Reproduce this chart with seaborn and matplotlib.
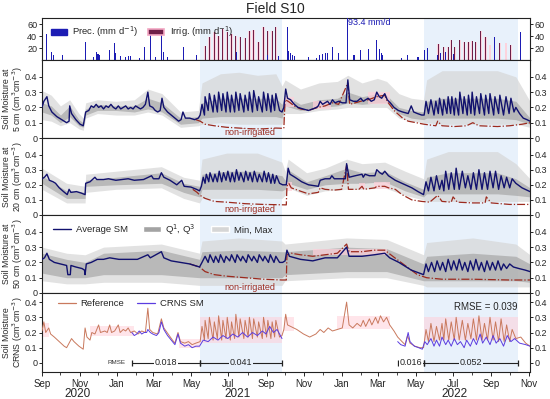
import numpy as np
import pandas as pd
import matplotlib
matplotlib.use("Agg")
import matplotlib.pyplot as plt
import matplotlib.dates as mdates
import matplotlib.transforms as mtrans
from matplotlib.patches import Patch
from matplotlib.lines import Line2D
import seaborn as sns

# days counted from 2020-09-01
START = pd.Timestamp("2020-09-01")
END_DAY = 793
irrigated_seasons = [(257, 390), (621, 774)]

prec_days = [8, 16, 18, 34, 71, 83, 89, 91, 94, 110, 118, 120, 127, 136, 140, 144, 159, 167, 176, 184,
             194, 197, 204, 230, 251, 316, 366, 384, 399, 401, 404, 407, 411, 433, 446, 451, 456, 460,
             464, 472, 482, 497, 507, 518, 530, 544, 549, 552, 554, 584, 594, 611, 621, 626, 643, 648,
             655, 668, 736, 777]
prec_vals = [44, 12.6, 8, 9, 30, 5, 14, 10, 8, 16, 28, 12, 7, 5, 6, 7, 3, 22, 42, 5,
             42, 14, 5, 22, 8, 13, 8, 6, 55, 15, 12, 8, 6, 5, 3, 8, 10, 12,
             12, 22, 12, 93.4, 8, 16, 18, 33, 18, 12, 8, 3, 8, 5, 16, 20, 8, 12,
             14, 10, 38, 47]
irr_days = [265, 272, 280, 287, 294, 301, 308, 315, 322, 330, 337, 344, 352, 360, 367, 374, 380,
            644, 653, 660, 665, 671, 679, 686, 693, 699, 705, 713, 721, 728, 744, 754, 762]
irr_vals = [24, 39, 47, 40, 52, 47, 43, 40, 39, 36, 48, 50, 30, 55, 48, 48, 55,
            27, 22, 22, 34, 22, 34, 30, 30, 32, 30, 49, 38, 25, 28, 28, 25]

avg5 = [(0, .20), (3, .24), (8, .27), (11, .21), (16, .17), (24, .14), (32, .12), (40, .10), (44, .11),
        (45, .21), (48, .16), (55, .12), (62, .09), (67, .08), (71, .17), (76, .18), (80, .21), (84, .20),
        (88, .22), (92, .20), (96, .21), (100, .19), (104, .21), (108, .20), (112, .22), (116, .20),
        (120, .19), (124, .21), (128, .19), (132, .20), (136, .21), (140, .19), (144, .20), (148, .19),
        (152, .21), (156, .20), (160, .19), (164, .20), (168, .22), (172, .30), (175, .21), (180, .20),
        (184, .18), (188, .17), (192, .18), (195, .26), (198, .20), (204, .17), (210, .15), (216, .13),
        (222, .11), (226, .12), (229, .17), (233, .13), (240, .13), (248, .12), (254, .13),
        (257, .15), (260, .22), (264, .15), (265, .27), (270, .18), (272, .29), (278, .17), (280, .28),
        (285, .17), (287, .30), (292, .18), (294, .29), (299, .17), (301, .30), (306, .17), (308, .28),
        (313, .17), (315, .30), (320, .18), (322, .29), (328, .17), (330, .28), (335, .18), (337, .30),
        (342, .17), (344, .31), (350, .18), (352, .27), (358, .17), (360, .30), (365, .18), (367, .29),
        (372, .17), (374, .28), (378, .18), (380, .29), (386, .18), (390, .17),
        (393, .20), (396, .32), (399, .26), (404, .25), (410, .22), (416, .20), (424, .19), (433, .18),
        (440, .19), (446, .20), (449, .21), (452, .24), (456, .22), (460, .23), (464, .24), (468, .22),
        (472, .25), (476, .23), (482, .24), (488, .23), (494, .23), (497, .38), (500, .25), (506, .24),
        (512, .24), (518, .26), (522, .24), (526, .25), (530, .26), (535, .24), (540, .25), (544, .30),
        (548, .27), (552, .26), (557, .29), (561, .25), (566, .23), (572, .20), (579, .18), (586, .17),
        (595, .16), (600, .21), (604, .17), (610, .16), (617, .15),
        (621, .15), (624, .24), (628, .16), (632, .25), (637, .15), (640, .24), (644, .16), (646, .26),
        (651, .15), (653, .25), (658, .16), (660, .27), (664, .16), (666, .27), (670, .15), (672, .26),
        (677, .15), (679, .30), (684, .16), (686, .27), (691, .15), (693, .28), (697, .16), (699, .30),
        (703, .15), (706, .27), (711, .16), (713, .29), (719, .15), (721, .28), (726, .16), (728, .29),
        (734, .15), (736, .27), (742, .16), (744, .28), (750, .15), (754, .27), (759, .16), (762, .26),
        (767, .17), (770, .20), (776, .16), (782, .13), (788, .12), (793, .11)]
nonirr5 = [(250, .12), (257, .11), (265, .09), (280, .08), (300, .07), (320, .065), (340, .06), (360, .06),
           (380, .065), (393, .063), (395, .25), (400, .24), (410, .21), (420, .19), (433, .18), (448, .20),
           (460, .21), (472, .23), (482, .22), (497, .36), (500, .22), (518, .24), (530, .25), (544, .27),
           (557, .28), (561, .24), (572, .18), (586, .13), (595, .11), (608, .10), (621, .09), (640, .08),
           (643, .11), (650, .08), (670, .075), (690, .08), (700, .10), (710, .08), (740, .075),
           (760, .08), (780, .09), (793, .10)]
# (day, min, q1, q3, max)
band5 = [(0, .12, .17, .23, .31), (15, .11, .15, .21, .28), (30, .08, .10, .15, .21), (45, .10, .14, .21, .25),
         (60, .06, .08, .12, .16), (67, .05, .07, .10, .13), (71, .13, .15, .19, .23), (90, .16, .18, .22, .25),
         (120, .15, .18, .21, .24), (150, .15, .17, .21, .25), (172, .17, .19, .26, .32), (195, .15, .17, .23, .29),
         (225, .07, .09, .13, .17), (254, .08, .10, .14, .18), (260, .09, .13, .23, .36), (290, .10, .14, .26, .42),
         (320, .09, .14, .26, .43), (350, .09, .14, .26, .41), (380, .09, .14, .26, .42), (390, .09, .13, .22, .34),
         (395, .16, .21, .28, .38), (420, .16, .18, .22, .32), (450, .18, .20, .25, .36), (480, .19, .21, .26, .37),
         (497, .20, .23, .30, .41), (520, .20, .22, .27, .36), (545, .20, .23, .29, .39), (560, .20, .23, .28, .37),
         (580, .13, .16, .20, .29), (600, .11, .13, .18, .26), (620, .10, .12, .17, .25), (625, .10, .13, .24, .38),
         (650, .09, .13, .26, .44), (680, .09, .13, .26, .44), (710, .09, .13, .26, .44), (740, .09, .13, .26, .44),
         (770, .09, .12, .24, .40), (793, .07, .09, .13, .24)]
pink5 = [(393, 410, .20, .27), (440, 470, .19, .24), (530, 565, .22, .30)]

avg20 = [(0, .24), (4, .25), (8, .27), (12, .23), (18, .22), (22, .21), (28, .18), (35, .155), (41, .135),
         (44, .17), (47, .15), (56, .155), (64, .145), (70, .135), (71, .21), (78, .22), (86, .25), (89, .235),
         (100, .235), (108, .24), (120, .23), (130, .235), (140, .24), (150, .23), (165, .235), (178, .26),
         (181, .24), (190, .24), (194, .28), (198, .25), (208, .23), (219, .20), (227, .23), (231, .19),
         (242, .185), (251, .17), (256, .16),
         (259, .19), (262, .25), (265, .21), (267, .27), (271, .22), (273, .28), (278, .22), (281, .27),
         (285, .22), (288, .29), (292, .22), (295, .28), (299, .23), (302, .29), (306, .22), (309, .28),
         (313, .22), (316, .30), (320, .23), (323, .28), (328, .22), (331, .29), (335, .23), (338, .28),
         (342, .22), (345, .29), (350, .22), (353, .27), (358, .22), (361, .29), (365, .22), (368, .28),
         (372, .21), (375, .27), (378, .21), (381, .26), (386, .21), (391, .20),
         (397, .20), (400, .31), (403, .27), (411, .25), (422, .22), (433, .20), (449, .19), (452, .23),
         (460, .24), (468, .24), (471, .26), (475, .24), (487, .24), (493, .24), (495, .34), (499, .25),
         (509, .26), (520, .27), (522, .25), (525, .27), (532, .26), (541, .26), (544, .30), (549, .28),
         (553, .27), (557, .29), (563, .26), (574, .23), (590, .20), (601, .18), (611, .155), (620, .135),
         (624, .22), (628, .16), (632, .25), (637, .16), (641, .26), (646, .17), (650, .23), (653, .16),
         (656, .29), (661, .17), (665, .28), (670, .17), (673, .31), (678, .17), (683, .29), (688, .18),
         (692, .26), (697, .17), (701, .28), (706, .17), (710, .30), (715, .17), (719, .28), (724, .17),
         (728, .29), (733, .18), (737, .29), (742, .17), (746, .26), (751, .18), (755, .25), (760, .18),
         (764, .24), (770, .21), (780, .18), (793, .155)]
nonirr20 = [(245, .17), (252, .15), (257, .13), (265, .11), (280, .09), (300, .085), (330, .075), (360, .07),
            (397, .067), (398, .19), (401, .21), (405, .18), (422, .155), (433, .14), (449, .15), (452, .18),
            (460, .17), (475, .165), (487, .17), (495, .33), (498, .17), (515, .17), (520, .19), (523, .17),
            (541, .18), (544, .19), (552, .19), (557, .19), (563, .18), (574, .17), (585, .135), (601, .10),
            (617, .09), (630, .085), (643, .13), (650, .09), (665, .085), (668, .12), (675, .085), (700, .08),
            (720, .08), (722, .12), (730, .08), (760, .07), (793, .07)]
band20 = [(0, .17, .21, .26, .31), (40, .08, .11, .16, .21), (70, .08, .11, .15, .19), (71, .15, .19, .23, .27),
          (120, .17, .20, .25, .29), (194, .18, .21, .28, .32), (230, .11, .15, .21, .25), (256, .08, .12, .19, .23),
          (260, .11, .17, .27, .37), (300, .11, .17, .29, .41), (350, .11, .17, .29, .41), (390, .11, .16, .26, .35),
          (395, .13, .17, .23, .29), (400, .18, .21, .30, .37), (430, .13, .17, .22, .28), (460, .16, .20, .26, .31),
          (495, .17, .21, .31, .37), (520, .17, .21, .28, .34), (557, .18, .22, .29, .35), (590, .13, .16, .22, .29),
          (620, .10, .12, .17, .24), (625, .09, .14, .25, .37), (660, .09, .14, .28, .42), (700, .09, .14, .28, .42),
          (740, .09, .14, .28, .42), (770, .09, .13, .24, .34), (793, .09, .12, .18, .24)]
pink20 = [(398, 406, .16, .22), (515, 525, .17, .21), (540, 565, .17, .22)]

avg50 = [(0, .22), (4, .23), (8, .26), (12, .22), (20, .20), (30, .19), (40, .18), (42, .12), (46, .12),
         (47, .18), (55, .17), (65, .16), (69, .15), (70, .12), (72, .19), (80, .20), (90, .22), (100, .22),
         (110, .23), (125, .22), (140, .22), (155, .22), (172, .25), (176, .23), (194, .27), (198, .23),
         (210, .21), (225, .20), (240, .19), (256, .17),
         (260, .20), (265, .24), (270, .20), (273, .25), (279, .20), (282, .24), (287, .20), (290, .25),
         (296, .20), (299, .24), (305, .21), (308, .25), (314, .20), (317, .25), (323, .21), (326, .24),
         (332, .20), (335, .25), (341, .21), (344, .24), (350, .20), (353, .25), (359, .21), (362, .24),
         (368, .20), (371, .25), (377, .20), (380, .24), (386, .20), (391, .20),
         (395, .21), (398, .28), (402, .24), (420, .22), (440, .21), (460, .23), (480, .23), (495, .30),
         (499, .24), (520, .24), (540, .25), (557, .26), (565, .23), (580, .20), (600, .15), (620, .12),
         (624, .19), (628, .14), (633, .20), (638, .14), (642, .21), (647, .15), (651, .20), (656, .14),
         (660, .22), (665, .15), (669, .21), (674, .15), (678, .22), (683, .15), (687, .20), (692, .14),
         (696, .21), (701, .15), (705, .22), (710, .15), (714, .20), (719, .14), (723, .21), (728, .15),
         (732, .20), (737, .15), (741, .21), (746, .15), (750, .19), (755, .16), (760, .19), (766, .17),
         (775, .16), (785, .15), (793, .14)]
nonirr50 = [(240, .19), (256, .17), (265, .14), (280, .12), (300, .11), (330, .10), (360, .09), (390, .085),
            (397, .085), (398, .25), (405, .26), (420, .25), (440, .24), (460, .25), (480, .26), (495, .32),
            (499, .27), (520, .27), (540, .28), (557, .28), (570, .24), (590, .18), (610, .12), (625, .10),
            (650, .09), (700, .09), (760, .085), (793, .085)]
band50 = [(0, .08, .13, .26, .30), (40, .06, .10, .22, .26), (70, .06, .10, .20, .25), (100, .07, .12, .26, .30),
          (194, .07, .12, .28, .32), (256, .05, .10, .22, .26), (260, .05, .10, .27, .34), (320, .05, .10, .28, .36),
          (390, .05, .10, .27, .34), (395, .08, .12, .27, .32), (495, .10, .14, .30, .36), (560, .10, .14, .29, .35),
          (620, .05, .08, .19, .25), (625, .04, .08, .24, .33), (700, .04, .08, .26, .36), (770, .04, .08, .24, .32),
          (793, .04, .07, .19, .25)]
pink50 = [(440, 560, .25, .29)]

crns_ref = [(0, .21), (3, .27), (6, .20), (11, .23), (14, .19), (20, .17), (28, .14), (36, .11), (40, .10),
            (48, .16), (52, .14), (60, .11), (67, .09), (70, .23), (73, .17), (78, .15), (81, .20), (86, .19),
            (92, .25), (95, .20), (102, .21), (106, .20), (110, .25), (113, .20), (118, .21), (124, .25),
            (127, .20), (132, .22), (136, .21), (140, .23), (144, .20), (150, .21), (156, .19), (162, .21),
            (168, .20), (172, .36), (175, .22), (180, .20), (188, .19), (194, .29), (198, .23), (205, .19),
            (212, .15), (216, .13), (221, .20), (225, .14), (232, .13), (238, .14), (244, .12), (250, .13),
            (257, .14), (260, .24), (264, .15), (265, .28), (270, .16), (272, .30), (278, .15), (280, .27),
            (285, .16), (287, .31), (292, .15), (294, .28), (299, .16), (301, .30), (306, .15), (308, .27),
            (313, .16), (315, .32), (320, .17), (322, .29), (328, .16), (330, .28), (335, .17), (337, .30),
            (342, .16), (344, .29), (350, .17), (352, .27), (358, .16), (360, .30), (365, .17), (367, .28),
            (372, .16), (374, .27), (378, .17), (380, .28), (386, .17), (390, .18),
            (393, .22), (396, .32), (399, .25), (404, .24), (414, .22), (425, .19), (435, .17), (445, .19),
            (452, .22), (458, .20), (465, .23), (472, .21), (480, .22), (488, .23), (495, .40), (499, .25),
            (505, .23), (512, .26), (518, .24), (522, .28), (526, .24), (532, .29), (536, .25), (542, .30),
            (546, .26), (550, .31), (555, .27), (560, .30), (565, .25), (572, .21), (578, .17), (585, .14),
            (590, .12), (594, .18), (598, .13), (606, .11), (614, .10), (620, .10),
            (624, .22), (628, .14), (632, .26), (637, .14), (641, .24), (646, .15), (650, .26), (653, .15),
            (656, .29), (661, .15), (665, .27), (670, .15), (673, .30), (678, .15), (683, .28), (688, .15),
            (692, .26), (697, .16), (701, .29), (706, .15), (710, .31), (715, .15), (719, .26), (724, .15),
            (728, .30), (733, .15), (737, .27), (742, .14), (746, .29), (751, .14), (755, .25), (760, .14),
            (764, .22), (770, .16), (778, .17), (786, .13), (793, .11)]
crns_sm_2021 = [(146, .20), (150, .18), (154, .19), (158, .21), (162, .19), (166, .20), (170, .20), (172, .22),
                (176, .20), (180, .19), (186, .18), (190, .20), (194, .27), (198, .22), (204, .18), (210, .15),
                (216, .12), (221, .19), (225, .13), (232, .11), (238, .12), (244, .10), (250, .11), (256, .11),
                (262, .15), (270, .14), (278, .17), (286, .15), (294, .18), (302, .16), (310, .19), (318, .17),
                (326, .20), (334, .17), (342, .20), (350, .18), (358, .21), (364, .19), (370, .24), (376, .20),
                (382, .22), (386, .19), (390, .16)]
crns_sm_2022 = [(578, .14), (583, .12), (590, .11), (595, .20), (598, .14), (605, .11), (612, .10), (618, .09),
                (622, .14), (626, .12), (632, .16), (637, .11), (641, .15), (646, .11), (650, .17), (656, .12),
                (660, .15), (665, .11), (670, .16), (675, .12), (680, .14), (686, .10), (690, .15), (696, .11),
                (701, .16), (706, .12), (712, .19), (716, .13), (722, .17), (728, .12), (733, .18), (738, .13),
                (744, .16), (750, .11), (756, .18), (762, .14), (768, .16), (776, .13), (786, .12), (793, .11)]
pink_crns = [(0, 12, .17, .26), (78, 150, .18, .24), (222, 257, .10, .16), (257, 390, .13, .30),
             (393, 410, .21, .30), (480, 565, .22, .31), (621, 774, .15, .30)]
rmse_segs = [(146, 257, "0.018"), (257, 390, "0.041"), (578, 621, "0.016"), (621, 774, "0.052")]

NAVY = "#11116e"
PREC = "#1c1cb4"
IRR = "#6e1f48"
BG = "#e8f1fb"
NONIRR = "#9c2a1e"
REF = "#c9795d"
CRNS = "#5b3de0"
MINMAX = "#d6d6d6"
QCOL = "#a3a3a3"
PINK = "#ffd0da"


def to_date(days):
    return START + pd.to_timedelta(np.asarray(days, dtype=float), unit="D")


def frame(pairs):
    d = pd.DataFrame(pairs, columns=["day", "sm"])
    d["date"] = to_date(d["day"])
    return d


sns.set_theme(style="ticks")
plt.rcParams['font.family'] = ['Liberation Sans', 'DejaVu Sans']
plt.rcParams['axes.linewidth'] = 0.8

fig = plt.figure(figsize=(5.5, 3.99), dpi=100)
gs = fig.add_gridspec(5, 1, height_ratios=[42, 78, 77, 78, 79], left=42 / 550, right=530 / 550,
                      top=1 - 18 / 399, bottom=1 - 372 / 399, hspace=0)
axes = [fig.add_subplot(gs[0])]
for i in range(1, 5):
    axes.append(fig.add_subplot(gs[i], sharex=axes[0]))

for ax in axes:
    for s, e in irrigated_seasons:
        ax.axvspan(to_date([s])[0], to_date([e])[0], color=BG, lw=0, zorder=0)
    ax.tick_params(axis="y", which="both", left=True, right=True, labelleft=True, labelright=True,
                   labelsize=6.5, length=2.5, width=0.7, pad=1, direction="out")
    for sp in ax.spines.values():
        sp.set_color("#222222")

# precipitation / irrigation
ax = axes[0]
ax.bar(to_date(irr_days), irr_vals, width=4, color=PINK, alpha=0.9, lw=0, zorder=1)
ax.bar(to_date(irr_days), irr_vals, width=1.6, color=IRR, lw=0, zorder=2)
ax.bar(to_date(prec_days), prec_vals, width=1.8, color=PREC, lw=0, zorder=3)
ax.set_ylim(0, 70)
ax.set_yticks([20, 40, 60])
ax.text(to_date([498])[0], 63, "93.4 mm/d", color=PREC, fontsize=6.5, va="center", ha="left")
ax.legend(handles=[Patch(facecolor=PREC, edgecolor=PREC, label="Prec. (mm d$^{-1}$)"),
                   Patch(facecolor=IRR, edgecolor="#f2a6c2", lw=1.2, label="Irrig. (mm d$^{-1}$)")],
          ncol=2, loc="upper left", bbox_to_anchor=(0.0, 1.04), frameon=False, fontsize=6.8,
          handlelength=1.7, handleheight=0.55, columnspacing=1.0, handletextpad=0.6)

depth_sets = [(axes[1], avg5, nonirr5, band5, pink5, "Soil Moisture at\n5 cm (cm$^3$cm$^{-3}$)"),
              (axes[2], avg20, nonirr20, band20, pink20, "Soil Moisture at\n20 cm (cm$^3$cm$^{-3}$)"),
              (axes[3], avg50, nonirr50, band50, pink50, "Soil Moisture at\n50 cm (cm$^3$cm$^{-3}$)")]
for ax, avg, nonirr, band, pink, ylab in depth_sets:
    b = pd.DataFrame(band, columns=["day", "mn", "q1", "q3", "mx"])
    bd = to_date(b["day"])
    ax.fill_between(bd, b["mn"], b["mx"], color=MINMAX, alpha=0.7, lw=0, zorder=1)
    ax.fill_between(bd, b["q1"], b["q3"], color=QCOL, alpha=0.65, lw=0, zorder=2)
    for s, e, lo, hi in pink:
        ax.fill_between(to_date([s, e]), [lo, lo], [hi, hi], color=PINK, alpha=0.7, lw=0, zorder=2.5)
    sns.lineplot(data=frame(nonirr), x="date", y="sm", ax=ax, color=NONIRR, lw=0.9, linestyle="-.",
                 estimator=None, sort=False, legend=False, zorder=3)
    sns.lineplot(data=frame(avg), x="date", y="sm", ax=ax, color=NAVY, lw=1.0,
                 estimator=None, sort=False, legend=False, zorder=4)
    ax.set_ylim(0, 0.51)
    ax.set_yticks([0, 0.1, 0.2, 0.3, 0.4])
    ax.set_yticklabels(["0", "0.1", "0.2", "0.3", "0.4"])
    ax.set_ylabel(ylab, fontsize=6.3, linespacing=1.0)
    ax.text(to_date([338])[0], 0.035, "non-irrigated", color=NONIRR, fontsize=6.5, ha="center", va="center")

axes[3].legend(handles=[Line2D([], [], color=NAVY, lw=1.0, label="Average SM"),
                        Patch(facecolor=QCOL, label="Q$^{1}$, Q$^{3}$"),
                        Patch(facecolor=MINMAX, label="Min, Max")],
               ncol=3, loc="upper left", bbox_to_anchor=(0.005, 1.02), frameon=False, fontsize=6.8,
               handlelength=1.9, handleheight=0.7, columnspacing=1.6, handletextpad=0.5)

# CRNS panel
ax = axes[4]
for s, e, lo, hi in pink_crns:
    ax.fill_between(to_date([s, e]), [lo, lo], [hi, hi], color=PINK, alpha=0.55, lw=0, zorder=1)
sns.lineplot(data=frame(crns_ref), x="date", y="sm", ax=ax, color=REF, lw=0.7,
             estimator=None, sort=False, legend=False, zorder=3)
sm = pd.concat([frame(crns_sm_2021).assign(seg=1), frame(crns_sm_2022).assign(seg=2)])
sns.lineplot(data=sm, x="date", y="sm", units="seg", ax=ax, color=CRNS, lw=0.7,
             estimator=None, sort=False, legend=False, zorder=4)
ax.set_ylim(-0.06, 0.46)
ax.set_yticks([0, 0.1, 0.2, 0.3, 0.4])
ax.set_yticklabels(["0", "0.1", "0.2", "0.3", "0.4"])
ax.set_ylabel("Soil Moisture\nCRNS (cm$^3$cm$^{-3}$)", fontsize=6.3, linespacing=1.0)
ax.legend(handles=[Line2D([], [], color=REF, lw=0.9, label="Reference"),
                   Line2D([], [], color=CRNS, lw=0.9, label="CRNS SM")],
          ncol=2, loc="upper left", bbox_to_anchor=(0.015, 1.03), frameon=False, fontsize=6.8,
          handlelength=1.9, columnspacing=1.4, handletextpad=0.5)
ax.text(to_date([773])[0], 0.365, "RMSE = 0.039", fontsize=7, ha="right", va="center")
ax.text(to_date([136])[0], 0.0, "RMSE", fontsize=4.5, ha="right", va="center", color="#333333")
for s, e, lab in rmse_segs:
    dd = to_date([s, e])
    ax.plot(dd, [0, 0], color="#222222", lw=0.8, zorder=5)
    ax.plot(dd, [0, 0], ls="none", marker="|", ms=5, mew=0.9, color="#222222", zorder=5)
    fc = BG if any(s >= a and e <= b for a, b in irrigated_seasons) else "white"
    ax.text(to_date([(s + e) / 2])[0], 0.0, lab, fontsize=6.5, ha="center", va="center", zorder=6,
            bbox=dict(boxstyle="square,pad=0.1", fc=fc, ec="none"))

# x axis
for ax in axes[:-1]:
    ax.tick_params(axis="x", which="both", bottom=False, labelbottom=False)
    ax.set_xlabel("")
axes[-1].xaxis.set_major_locator(mdates.MonthLocator(bymonth=[1, 3, 5, 7, 9, 11]))
axes[-1].xaxis.set_minor_locator(mdates.MonthLocator())
axes[-1].xaxis.set_major_formatter(mdates.DateFormatter("%b"))
axes[-1].tick_params(axis="x", which="major", labelsize=7, length=3, width=0.7, pad=2)
axes[-1].tick_params(axis="x", which="minor", length=2, width=0.6)
axes[-1].set_xlabel("")
axes[0].set_xlim(to_date([0])[0], to_date([END_DAY])[0])
trans = mtrans.blended_transform_factory(axes[-1].transData, axes[-1].transAxes)
for d, yr in [(58, "2020"), (317, "2021"), (671, "2022")]:
    axes[-1].text(to_date([d])[0], -0.2, yr, transform=trans, fontsize=8.5, ha="center", va="top")
for ax in axes[1:]:
    ax.yaxis.set_label_coords(-0.035, 0.5)
fig.suptitle("Field S10", fontsize=10, y=0.995)

fig.savefig("out.png", dpi=100)
